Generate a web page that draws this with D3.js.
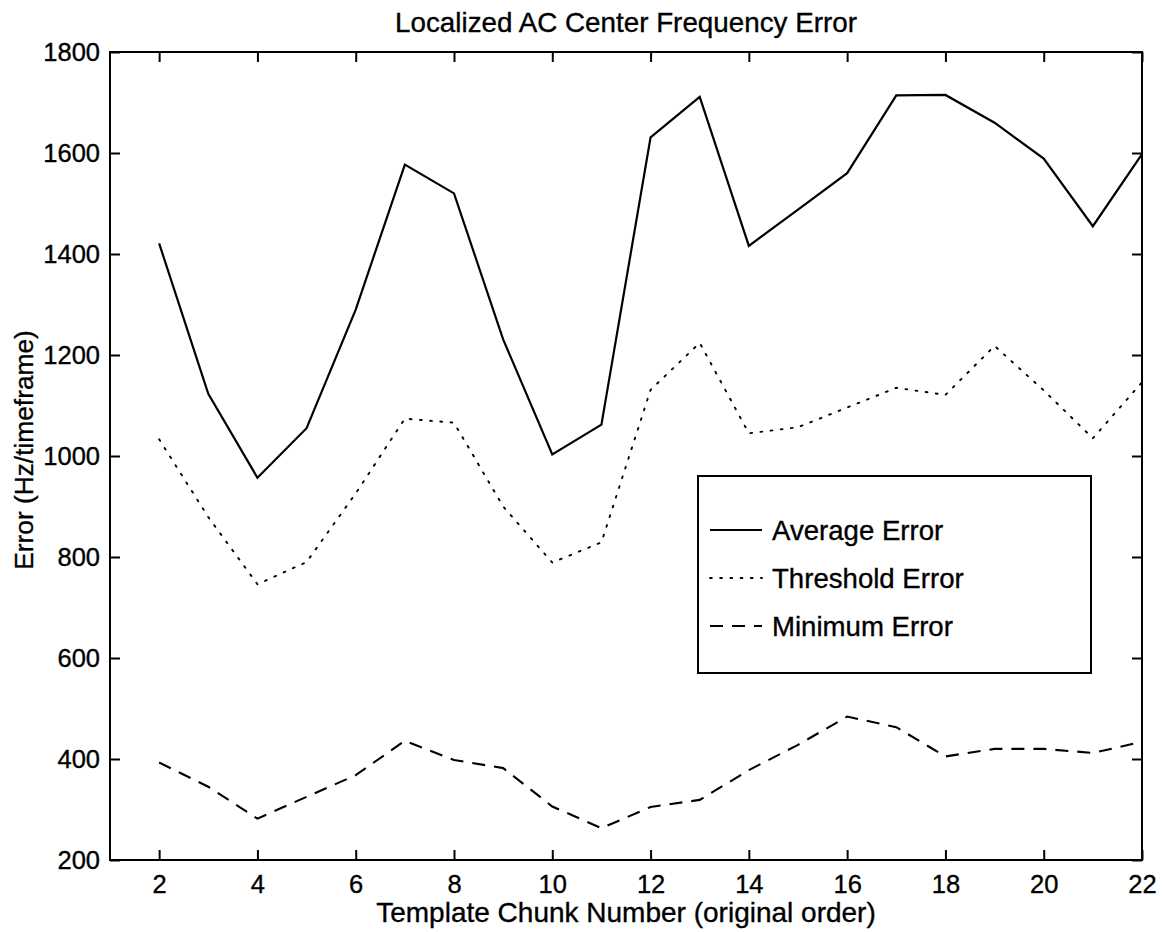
<!DOCTYPE html>
<html>
<head>
<meta charset="utf-8">
<script src="https://cdn.jsdelivr.net/npm/d3@7"></script>
<style>
  html, body { margin: 0; padding: 0; background: #fff; }
  svg text { font-family: "Liberation Sans", Arial, Helvetica, sans-serif; fill: #000; stroke: #000; stroke-width: 0.35px; }
</style>
</head>
<body>
<div id="chart"></div>
<script>
// Localized AC Center Frequency Error - three error curves per template chunk

const chunks = [2, 3, 4, 5, 6, 7, 8, 9, 10, 11, 12, 13, 14, 15, 16, 17, 18, 19, 20, 21, 22];
const averageError = [1421, 1123, 957, 1055, 1290, 1577, 1520, 1231, 1003, 1062, 1631, 1711, 1416, 1488, 1560, 1714, 1715, 1660, 1589, 1455, 1598];
const thresholdError = [1033, 879, 746, 790, 926, 1074, 1066, 900, 789, 829, 1131, 1224, 1045, 1057, 1096, 1135, 1121, 1218, 1130, 1035, 1146];
const minimumError = [393, 345, 282, 325, 368, 436, 398, 382, 306, 263, 305, 319, 378, 428, 484, 463, 405, 420, 420, 412, 434];

const xTicks = [2, 4, 6, 8, 10, 12, 14, 16, 18, 20, 22];
const yTicks = [200, 400, 600, 800, 1000, 1200, 1400, 1600, 1800];

const seriesList = [
  { name: "Average Error", values: averageError, dash: null, width: 2.2 },
  { name: "Threshold Error", values: thresholdError, dash: "1.8,8.4", width: 1.9 },
  { name: "Minimum Error", values: minimumError, dash: "13,9", width: 2.1 }
];

function drawChart() {
  const width = 1163, height = 932;
  const left = 110, right = 1142, top = 52, bottom = 860;

  const svg = d3.select("#chart").append("svg")
    .attr("width", width)
    .attr("height", height);

  const x = d3.scaleLinear().domain([1, 22]).range([left, right]);
  const y = d3.scaleLinear().domain([200, 1800]).range([bottom, top]);

  // bottom axis, ticks pointing in
  const xAxis = svg.append("g")
    .attr("transform", `translate(0,${bottom})`)
    .call(d3.axisBottom(x).tickValues(xTicks).tickSize(-10).tickPadding(14.5).tickFormat(d3.format("d")));
  // top axis mirror
  const xTop = svg.append("g")
    .attr("transform", `translate(0,${top})`)
    .call(d3.axisTop(x).tickValues(xTicks).tickSize(-10).tickFormat(""));
  // left axis
  const yAxis = svg.append("g")
    .attr("transform", `translate(${left},0)`)
    .call(d3.axisLeft(y).tickValues(yTicks).tickSize(-10).tickPadding(10).tickFormat(d3.format("d")));
  // right axis mirror
  const yRight = svg.append("g")
    .attr("transform", `translate(${right},0)`)
    .call(d3.axisRight(y).tickValues(yTicks).tickSize(-10).tickFormat(""));

  [xAxis, xTop, yAxis, yRight].forEach(g => {
    g.select(".domain").remove();
    g.selectAll(".tick line").attr("stroke", "#000").attr("stroke-width", 2);
    g.selectAll(".tick text").style("font-size", "25.5px").attr("fill", "#000");
  });

  // plot frame
  svg.append("rect")
    .attr("x", left).attr("y", top)
    .attr("width", right - left).attr("height", bottom - top)
    .attr("fill", "none")
    .attr("stroke", "#000")
    .attr("stroke-width", 2);

  const line = d3.line()
    .x((d, i) => x(chunks[i]))
    .y(d => y(d));

  svg.append("g")
    .selectAll("path")
    .data(seriesList)
    .join("path")
    .attr("d", d => line(d.values))
    .attr("fill", "none")
    .attr("stroke", "#000")
    .attr("stroke-width", d => d.width)
    .attr("stroke-linejoin", "miter")
    .attr("stroke-linecap", d => d.name === "Threshold Error" ? "round" : "butt")
    .attr("stroke-dasharray", d => d.dash);

  // title and axis labels
  svg.append("text")
    .attr("x", (left + right) / 2).attr("y", 32)
    .attr("text-anchor", "middle")
    .style("font-size", "27.8px")
    .text("Localized AC Center Frequency Error");

  svg.append("text")
    .attr("x", (left + right) / 2).attr("y", 922)
    .attr("text-anchor", "middle")
    .style("font-size", "28px")
    .text("Template Chunk Number (original order)");

  svg.append("text")
    .attr("transform", `translate(33,450) rotate(-90)`)
    .attr("text-anchor", "middle")
    .style("font-size", "26.3px")
    .text("Error (Hz/timeframe)");

  // legend
  const legend = svg.append("g");
  legend.append("rect")
    .attr("x", 698).attr("y", 476)
    .attr("width", 393).attr("height", 197)
    .attr("fill", "#fff")
    .attr("stroke", "#000")
    .attr("stroke-width", 2);

  const entries = legend.selectAll("g.entry")
    .data(seriesList)
    .join("g")
    .attr("class", "entry")
    .attr("transform", (d, i) => `translate(0,${530 + i * 48})`);

  entries.append("line")
    .attr("x1", 710).attr("x2", 762)
    .attr("y1", 0).attr("y2", 0)
    .attr("stroke", "#000")
    .attr("stroke-width", d => d.width)
    .attr("stroke-linecap", d => d.name === "Threshold Error" ? "round" : "butt")
    .attr("stroke-dasharray", d => d.dash);

  entries.append("text")
    .attr("x", 772).attr("y", 0)
    .attr("dy", "0.35em")
    .style("font-size", "27.6px")
    .text(d => d.name);
}

if (document.readyState === 'loading') {
  document.addEventListener('DOMContentLoaded', drawChart);
} else {
  drawChart();
}
</script>
</body>
</html>
